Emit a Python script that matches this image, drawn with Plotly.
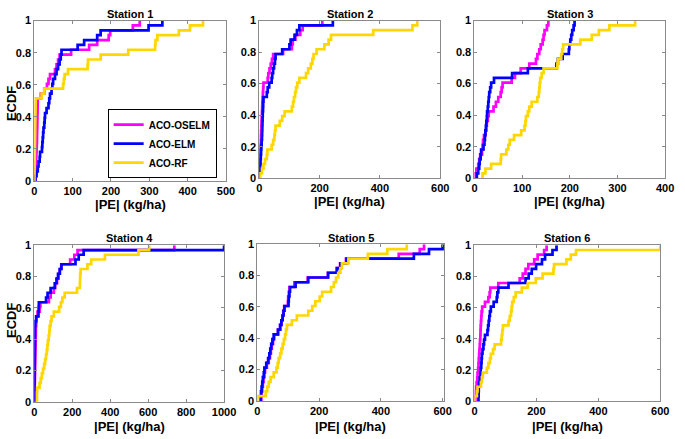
import numpy as np
import plotly.graph_objects as go

s1_oselm = [3, 3.5, 4, 4.5, 5, 5.5, 6, 6.5, 7, 7.2, 7.5, 7.8, 8, 8.2, 8.5, 8.8, 9,
            17, 26, 33, 37, 41, 54, 58, 62, 66, 96, 143, 164, 194, 198, 257, 275]
s1_elm = [3, 6, 9, 11, 14, 15, 20, 21, 22, 23, 24, 26, 27, 28, 32, 37, 39,
          41, 45, 47, 49, 54, 58, 62, 66, 69, 71, 113, 130, 164, 173, 298, 334]
s1_rf = [0.3, 0.5, 0.7, 0.9, 1.1, 1.3, 1.5, 1.7, 1.9, 2.1, 2.3, 2.5, 2.7, 2.9, 3.1, 3.3, 3.5,
         19, 26, 75, 77, 79, 88, 139, 140, 173, 245, 315, 316, 321, 377, 406, 440]

s2_oselm = [0.5, 1, 1.5, 2.5, 3, 3.5, 4, 5, 5.5, 6, 7, 7.5, 8, 9, 9.5, 10, 11, 12, 13, 14,
            28, 30, 34, 38, 42, 46, 79, 108, 111, 120, 136, 144, 209]
s2_elm = [1, 2, 3, 4, 5, 6, 7, 8, 9, 9.5, 10, 10.5, 11, 11.5, 12.5, 13, 14,
          25, 28, 33, 41, 43, 46, 49, 52, 54, 76, 100, 104, 117, 125, 133, 244]
s2_rf = [3, 9, 14, 19, 25, 27, 41, 46, 50, 52, 54, 68, 76, 84, 108, 112, 115,
         119, 122, 126, 133, 155, 162, 171, 176, 180, 190, 216, 230, 238, 378, 508, 524]

s3_oselm = [2, 4, 8, 10, 12, 16, 17, 18, 20, 23, 25, 26, 28, 30, 40, 45, 50,
            55, 57, 59, 78, 85, 97, 115, 129, 132, 136, 139, 143, 145, 147, 152, 155]
s3_elm = [5, 8, 10, 11, 13, 14, 19, 21, 22, 23, 24, 25, 26, 26.5, 28, 29, 30,
          31, 33, 35, 41, 79, 112, 172, 175, 185, 198, 199, 201, 203, 205, 208, 210]
s3_rf = [17, 23, 35, 55, 56, 67, 71, 74, 83, 98, 105, 107, 108, 112, 115, 120, 132,
         135, 136, 137, 138, 141, 145, 174, 175, 182, 184, 186, 222, 246, 261, 283, 337]

s4_oselm = [1, 1.5, 2, 2.5, 3, 3.5, 4, 4.5, 5, 5.5, 6, 6.5, 7, 7.5, 8, 8.5, 10,
            12, 17, 28, 32, 77, 86, 103, 110, 120, 128, 135, 142, 189, 211, 228, 738]
s4_elm = [0.5, 0.8, 1, 1.2, 1.4, 1.6, 1.8, 2, 2.2, 2.4, 2.6, 2.8, 3, 3.2, 3.4, 3.6, 5,
          9, 22, 23, 24, 62, 70, 86, 108, 117, 125, 134, 143, 217, 234, 260, 1000]
s4_rf = [14, 14, 15, 28, 34, 40, 46, 52, 57, 62, 66, 69, 72, 76, 79, 81, 86,
         91, 103, 131, 140, 148, 160, 225, 240, 241, 242, 244, 280, 300, 372, 549, 605]

s5_oselm = [13, 14, 16, 18, 20, 23, 25, 31, 37, 41, 44, 47, 51, 55, 67, 74, 78,
            81, 84, 87, 99, 100, 102, 104, 120, 163, 229, 257, 268, 287, 458, 526, 540]
s5_elm = [11, 12, 14, 16, 18, 21, 23, 29, 35, 39, 42, 45, 49, 53, 67, 74, 78,
          82, 85, 88, 101, 102, 104, 106, 124, 165, 229, 258, 269, 289, 507, 556, 600]
s5_rf = [0, 27, 32, 37, 43, 53, 62, 66, 69, 74, 78, 82, 86, 90, 93, 96, 112,
         128, 165, 178, 188, 202, 210, 239, 248, 255, 262, 269, 274, 295, 358, 421, 484]

s6_oselm = [3, 4, 5, 7, 9, 10, 12, 13, 14, 15, 16, 17, 18, 19, 19.5, 20, 21,
            22, 23, 25, 34, 45, 49, 51, 77, 146, 156, 165, 174, 193, 204, 225, 233]
s6_elm = [13, 13.5, 14, 15, 17, 19, 20, 22, 23, 24, 26, 29, 31, 34, 42, 44, 46,
          48, 50, 53, 62, 72, 74, 77, 110, 165, 175, 185, 199, 218, 228, 252, 265]
s6_rf = [0, 8, 10, 21, 24, 27, 40, 45, 50, 53, 60, 65, 86, 88, 90, 92, 110,
         114, 118, 120, 122, 127, 133, 153, 172, 198, 220, 255, 257, 297, 311, 328, 600]

models = ["ACO-OSELM", "ACO-ELM", "ACO-RF"]
colors = ["#FF00FF", "#0000FF", "#FFD700"]
stations = ["Station 1", "Station 2", "Station 3", "Station 4", "Station 5", "Station 6"]
station_data = [
    [s1_oselm, s1_elm, s1_rf],
    [s2_oselm, s2_elm, s2_rf],
    [s3_oselm, s3_elm, s3_rf],
    [s4_oselm, s4_elm, s4_rf],
    [s5_oselm, s5_elm, s5_rf],
    [s6_oselm, s6_elm, s6_rf],
]
x_ranges = [[0, 500], [0, 600], [0, 400], [0, 1000], [0, 605], [0, 600]]
x_dticks = [100, 200, 100, 200, 200, 200]

# subplot boxes in pixels (left, right, top, bottom) on the 685x439 page
W, H = 685, 439
boxes = [(32, 228, 15, 180), (262, 447, 15, 177), (482, 677, 15, 177),
         (32, 226, 246, 407), (260, 451, 245, 406), (482, 672, 246, 406)]
xtitle_y = [204, 201, 201, 432, 432, 432]   # pixel centre of the |PE| labels

FONT = "Liberation Sans, Arial, sans-serif"
AXIS_COLOR = "#8a8a8a"


def bold(size):
    return dict(family=FONT, size=size, color="black", weight="bold")


def ecdf_xy(values):
    v = np.sort(np.asarray(values, dtype=float))
    n = len(v)
    x = np.concatenate([[v[0]], v])
    y = np.concatenate([[0.0], np.arange(1, n + 1) / n])
    return x, y


def main():
    fig = go.Figure()
    annotations = []

    for k, name in enumerate(stations):
        ax = "" if k == 0 else str(k + 1)
        left, right, top, bottom = boxes[k]
        xdom = [left / W, right / W]
        ydom = [1 - bottom / H, 1 - top / H]
        xmid = (xdom[0] + xdom[1]) / 2

        for m, vals in enumerate(station_data[k]):
            x, y = ecdf_xy(vals)
            fig.add_trace(go.Scatter(
                x=x, y=y, mode="lines", line_shape="hv",
                line=dict(color=colors[m], width=2.7),
                name=models[m], showlegend=(k == 0),
                xaxis="x" + ax, yaxis="y" + ax))

        common = dict(showline=True, linecolor=AXIS_COLOR, linewidth=1, mirror="allticks",
                      ticks="inside", ticklen=3, tickcolor=AXIS_COLOR, showgrid=False,
                      zeroline=False, tickfont=bold(11))
        xaxis = dict(domain=xdom, anchor="y" + ax, range=x_ranges[k], dtick=x_dticks[k],
                     tick0=0, **common)
        yaxis = dict(domain=ydom, anchor="x" + ax, range=[0, 1],
                     tickvals=[0, 0.2, 0.4, 0.6, 0.8, 1],
                     ticktext=["0", "0.2", "0.4", "0.6", "0.8", "1"], **common)
        fig.update_layout({"xaxis" + ax: xaxis, "yaxis" + ax: yaxis})

        # station title above the box
        annotations.append(dict(
            text=name, x=xmid, y=1 - 8 / H if k < 3 else 1 - 239 / H,
            xref="paper", yref="paper", xanchor="center", yanchor="middle",
            showarrow=False, font=bold(11)))
        # x axis label
        annotations.append(dict(
            text="|PE| (kg/ha)", x=xmid, y=1 - xtitle_y[k] / H,
            xref="paper", yref="paper", xanchor="center", yanchor="middle",
            showarrow=False, font=bold(13)))
        if k in (0, 3):
            annotations.append(dict(
                text="ECDF", x=8 / W, y=1 - (100 if k == 0 else 323) / H, textangle=-90,
                xref="paper", yref="paper", xanchor="center", yanchor="middle",
                showarrow=False, font=bold(13)))

    fig.update_layout(
        width=W, height=H,
        margin=dict(l=0, r=0, t=0, b=0),
        paper_bgcolor="white", plot_bgcolor="white",
        annotations=annotations,
        legend=dict(x=107 / W, y=1 - 177 / H, xanchor="left", yanchor="bottom",
                    bgcolor="white", bordercolor="black", borderwidth=1,
                    font=bold(10), tracegroupgap=0, itemwidth=30),
    )
    # drop the browser's default body margin so the figure sits at the page corner
    fig.write_html("out.html", config={"displayModeBar": False},
                   post_script="document.body.style.margin='0';")


if __name__ == "__main__":
    main()
